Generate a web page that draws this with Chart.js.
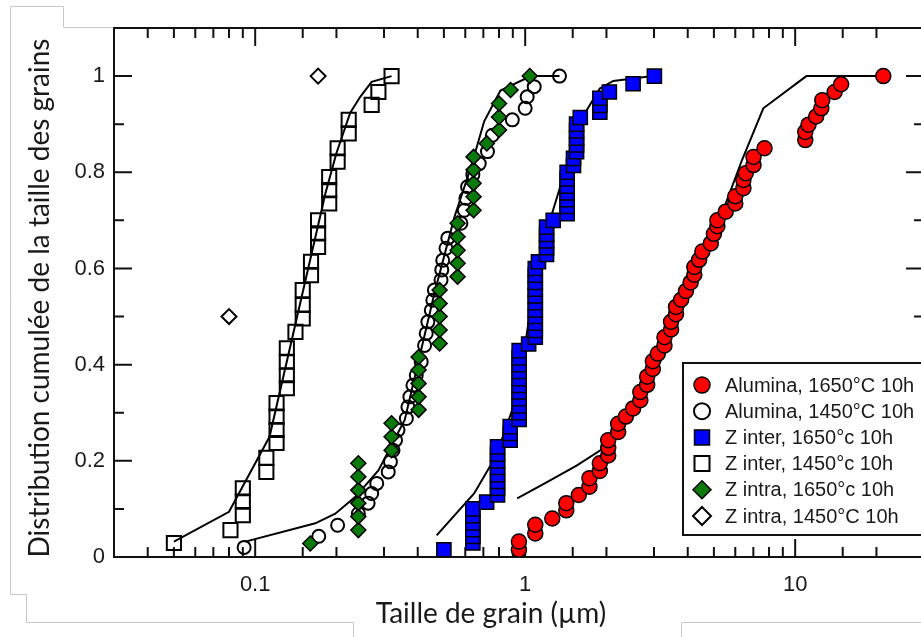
<!DOCTYPE html>
<html>
<head>
<meta charset="utf-8">
<script src="https://cdn.jsdelivr.net/npm/chart.js@4.4.0/dist/chart.umd.min.js"></script>
<style>
    html, body { margin: 0; padding: 0; background: #fff; overflow: hidden; }
    #wrap { width: 921px; height: 637px; overflow: hidden; }
    canvas { display: block; }
</style>
</head>
<body>
<div id="wrap"><canvas id="grainChart" width="936" height="637"></canvas></div>
<script>
// Grain size data, [size in µm, cumulative fraction]
const alumina1650 = [[0.948,0.015],[0.948,0.032],[1.09,0.049],[1.09,0.067],[1.26,0.080],[1.42,0.097],[1.42,0.112],
    [1.58,0.129],[1.73,0.146],[1.73,0.164],[1.89,0.179],[1.89,0.195],[2.03,0.211],[2.03,0.227],[2.03,0.243],
    [2.21,0.260],[2.21,0.277],[2.36,0.292],[2.51,0.309],[2.67,0.326],[2.67,0.343],[2.83,0.358],[2.83,0.375],
    [2.97,0.391],[2.97,0.407],[3.10,0.423],[3.28,0.440],[3.28,0.457],[3.47,0.473],[3.47,0.489],[3.62,0.505],
    [3.62,0.520],[3.78,0.535],[3.94,0.553],[4.10,0.571],[4.23,0.587],[4.23,0.603],[4.41,0.618],[4.53,0.635],
    [4.87,0.652],[5.00,0.672],[5.15,0.688],[5.15,0.700],[5.53,0.718],[6.00,0.735],[6.00,0.750],[6.43,0.767],
    [6.43,0.784],[6.56,0.798],[7.01,0.815],[7.01,0.832],[7.70,0.850],[10.9,0.867],[10.9,0.884],[11.2,0.899],
    [11.96,0.916],[12.5,0.933],[12.6,0.950],[14.0,0.967],[14.8,0.983],[21.2,1.000]];
const alumina1450 = [[0.091,0.020],[0.172,0.043],[0.202,0.066],[0.241,0.090],[0.262,0.112],[0.270,0.132],
    [0.282,0.153],[0.311,0.177],[0.317,0.198],[0.324,0.222],[0.331,0.243],[0.338,0.264],[0.363,0.288],
    [0.368,0.312],[0.374,0.333],[0.384,0.357],[0.395,0.378],[0.412,0.406],[0.424,0.440],[0.430,0.465],
    [0.436,0.489],[0.449,0.513],[0.455,0.534],[0.461,0.555],[0.488,0.576],[0.491,0.597],[0.495,0.617],
    [0.509,0.642],[0.517,0.663],[0.578,0.694],[0.595,0.721],[0.603,0.746],[0.612,0.770],[0.640,0.795],
    [0.676,0.818],[0.725,0.843],[0.756,0.877],[0.896,0.909],[1.000,0.933],[1.017,0.957],[1.080,0.978],[1.340,1.000]];
const zInter1650 = [[0.50,0.015],[0.64,0.029],[0.64,0.043],[0.64,0.057],[0.64,0.071],[0.64,0.086],[0.64,0.100],
    [0.72,0.114],[0.79,0.129],[0.79,0.143],[0.79,0.157],[0.79,0.171],[0.79,0.186],[0.79,0.200],[0.79,0.214],
    [0.79,0.229],[0.88,0.243],[0.88,0.257],[0.88,0.271],[0.95,0.286],[0.95,0.300],[0.95,0.314],[0.95,0.329],
    [0.95,0.343],[0.95,0.357],[0.95,0.371],[0.95,0.386],[0.95,0.400],[0.95,0.414],[0.95,0.429],[1.03,0.443],
    [1.09,0.457],[1.09,0.471],[1.09,0.486],[1.09,0.500],[1.09,0.514],[1.09,0.529],[1.09,0.543],[1.09,0.557],
    [1.09,0.571],[1.09,0.586],[1.09,0.600],[1.12,0.614],[1.20,0.629],[1.20,0.643],[1.20,0.657],[1.20,0.671],
    [1.20,0.686],[1.27,0.700],[1.43,0.714],[1.43,0.729],[1.43,0.743],[1.43,0.757],[1.43,0.771],[1.43,0.786],
    [1.43,0.800],[1.51,0.814],[1.51,0.829],[1.55,0.843],[1.55,0.857],[1.55,0.871],[1.55,0.886],[1.55,0.900],
    [1.60,0.914],[1.89,0.925],[1.89,0.939],[1.89,0.954],[2.05,0.967],[2.51,0.984],[3.01,1.000]];
const zInter1450 = [[0.050,0.029],[0.081,0.056],[0.090,0.087],[0.090,0.115],[0.090,0.143],[0.110,0.177],
    [0.110,0.206],[0.120,0.237],[0.120,0.264],[0.120,0.292],[0.120,0.320],[0.131,0.351],[0.131,0.378],
    [0.131,0.406],[0.131,0.434],[0.141,0.468],[0.150,0.496],[0.150,0.524],[0.150,0.555],[0.161,0.586],
    [0.161,0.614],[0.171,0.645],[0.171,0.673],[0.171,0.700],[0.188,0.735],[0.188,0.763],[0.188,0.790],
    [0.202,0.822],[0.202,0.850],[0.222,0.881],[0.222,0.909],[0.270,0.940],[0.286,0.967],[0.320,1.000]];
const zIntra1650 = [[0.160,0.028],[0.241,0.056],[0.241,0.084],[0.241,0.112],[0.241,0.139],[0.241,0.167],
    [0.241,0.195],[0.320,0.222],[0.320,0.250],[0.320,0.278],[0.403,0.306],[0.403,0.333],[0.403,0.361],
    [0.403,0.389],[0.403,0.416],[0.482,0.444],[0.482,0.472],[0.482,0.500],[0.482,0.527],[0.482,0.555],
    [0.562,0.583],[0.562,0.611],[0.562,0.638],[0.562,0.666],[0.562,0.694],[0.644,0.721],[0.644,0.749],
    [0.644,0.777],[0.644,0.805],[0.644,0.832],[0.721,0.860],[0.800,0.888],[0.800,0.915],[0.800,0.943],
    [0.883,0.971],[1.040,1.000]];
const zIntra1450 = [[0.080,0.500],[0.171,1.000]];

// Fitted curves
const fitZInter1450 = [[0.05,0.032],[0.08,0.094],[0.113,0.25],[0.182,0.756],[0.2,0.84],[0.225,0.924],
    [0.245,0.957],[0.27,0.988],[0.32,1.0]];
const fitMiddle = [[0.092,0.032],[0.167,0.07],[0.198,0.09],[0.235,0.125],[0.286,0.18],[0.358,0.285],
    [0.461,0.548],[0.547,0.707],[0.63,0.811],[0.705,0.906],[0.81,0.97],[1.05,1.0],[1.34,1.0]];
const fitZInter1650 = [[0.47,0.045],[0.647,0.132],[0.778,0.209],[0.896,0.306],[0.989,0.423],[1.076,0.562],
    [1.205,0.68],[1.348,0.77],[1.51,0.86],[1.69,0.929],[1.89,0.974],[2.12,0.99],[2.97,1.0]];
const fitAlumina1650 = [[0.934,0.122],[1.2,0.155],[1.55,0.19],[1.9,0.222],[2.3,0.268],[2.65,0.32],
    [3.33,0.43],[4.28,0.583],[5.53,0.735],[6.35,0.825],[7.62,0.933],[11.0,1.0],[21.2,1.0]];

const xLabelValues = [0.1, 1, 10];
const yLabelValues = [0, 0.2, 0.4, 0.6, 0.8, 1];

const toXY = arr => arr.map(p => ({ x: p[0], y: p[1] }));
const tickFont = { family: 'Liberation Sans', size: 22 };
const inkColor = '#1a1a1a';

function markerSet(label, data, style, radius, fill, order) {
    return {
        label: label,
        data: toXY(data),
        pointStyle: style,
        pointRadius: radius,
        pointHoverRadius: radius,
        pointBackgroundColor: fill,
        pointBorderColor: '#000',
        pointBorderWidth: fill === 'transparent' ? 2 : 1.5,
        showLine: false,
        order: order
    };
}

function fitSet(data) {
    return {
        data: toXY(data),
        showLine: true,
        borderColor: '#000',
        borderWidth: 2,
        pointRadius: 0,
        pointHoverRadius: 0,
        fill: false,
        order: 10
    };
}

// Inward tick marks and the closed frame
const axisTicks = {
    id: 'axisTicks',
    beforeDatasetsDraw(chart) {
        const { ctx, chartArea: a, scales: { x, y } } = chart;
        ctx.save();
        ctx.strokeStyle = '#111';
        ctx.lineWidth = 2;
        ctx.beginPath();
        ctx.moveTo(a.left - 1, a.top);
        ctx.lineTo(a.right, a.top);
        ctx.lineTo(a.right, a.bottom + 1);
        y.ticks.forEach(t => {
            const py = y.getPixelForValue(t.value);
            const major = Math.round(t.value * 10) % 2 === 0;
            const len = major ? 18 : 10;
            ctx.moveTo(a.left, py); ctx.lineTo(a.left + len, py);
            ctx.moveTo(a.right, py); ctx.lineTo(a.right - len, py);
        });
        x.ticks.forEach(t => {
            const px = x.getPixelForValue(t.value);
            const lg = Math.log10(t.value);
            const major = Math.abs(lg - Math.round(lg)) < 1e-6;
            const len = major ? 18 : 10;
            ctx.moveTo(px, a.bottom); ctx.lineTo(px, a.bottom - len);
            ctx.moveTo(px, a.top); ctx.lineTo(px, a.top + len);
        });
        ctx.stroke();
        ctx.restore();
    }
};

// Grey outline of the page around the figure
const pageFrame = {
    id: 'pageFrame',
    beforeDraw(chart) {
        const ctx = chart.ctx;
        ctx.save();
        ctx.strokeStyle = '#c8c8c8';
        ctx.lineWidth = 1;
        ctx.beginPath();
        ctx.moveTo(936, 27.5); ctx.lineTo(63.5, 27.5); ctx.lineTo(63.5, 6.5); ctx.lineTo(10.5, 6.5);
        ctx.lineTo(10.5, 594.5); ctx.lineTo(26.5, 594.5); ctx.lineTo(26.5, 622.5); ctx.lineTo(353.5, 622.5);
        ctx.lineTo(353.5, 637);
        ctx.moveTo(681.5, 637); ctx.lineTo(681.5, 622.5); ctx.lineTo(936, 622.5);
        ctx.stroke();
        ctx.restore();
    }
};

// Axis titles
const axisTitles = {
    id: 'axisTitles',
    afterDraw(chart) {
        const ctx = chart.ctx;
        ctx.save();
        ctx.fillStyle = inkColor;
        ctx.font = '28px Lato';
        ctx.textAlign = 'center';
        ctx.textBaseline = 'middle';
        ctx.fillText('Taille de grain (µm)', 491, 614);
        ctx.translate(40, 298);
        ctx.rotate(-Math.PI / 2);
        ctx.fillText('Distribution cumulée de la taille des grains', 0, 0);
        ctx.restore();
    }
};

// Legend box inside the plot
const legendBox = {
    id: 'legendBox',
    afterDraw(chart) {
        const ctx = chart.ctx;
        const left = 683, top = 363, rowH = 26.2;
        ctx.save();
        ctx.fillStyle = '#fff';
        ctx.fillRect(left, top, 260, 172);
        ctx.strokeStyle = '#111';
        ctx.lineWidth = 2;
        ctx.strokeRect(left, top, 260, 172);
        for (let i = 0; i < 6; i++) {
            const ds = chart.data.datasets[i];
            const cx = 702, cy = top + 22 + i * rowH;
            ctx.beginPath();
            if (ds.pointStyle === 'circle') {
                ctx.arc(cx, cy, 8, 0, Math.PI * 2);
            } else if (ds.pointStyle === 'rect') {
                const h = 7.5;
                ctx.rect(cx - h, cy - h, 2 * h, 2 * h);
            } else {
                const r = 9;
                ctx.moveTo(cx, cy - r); ctx.lineTo(cx + r, cy); ctx.lineTo(cx, cy + r); ctx.lineTo(cx - r, cy);
                ctx.closePath();
            }
            if (ds.pointBackgroundColor !== 'transparent') {
                ctx.fillStyle = ds.pointBackgroundColor;
                ctx.fill();
            }
            ctx.lineWidth = ds.pointBorderWidth;
            ctx.strokeStyle = '#000';
            ctx.stroke();
            ctx.fillStyle = inkColor;
            ctx.font = '20px "Liberation Sans"';
            ctx.textAlign = 'left';
            ctx.textBaseline = 'middle';
            ctx.fillText(ds.label, 725, cy + 1);
        }
        ctx.restore();
    }
};

const ctx = document.getElementById('grainChart').getContext('2d');
new Chart(ctx, {
    type: 'scatter',
    data: {
        datasets: [
            markerSet('Alumina, 1650°C 10h', alumina1650, 'circle', 7.5, '#ff0000', 1),
            markerSet('Alumina, 1450°C 10h', alumina1450, 'circle', 6.5, 'transparent', 4),
            markerSet('Z inter, 1650°c 10h', zInter1650, 'rect', 10, '#0000ff', 3),
            markerSet('Z inter, 1450°c 10h', zInter1450, 'rect', 10, 'transparent', 5),
            markerSet('Z intra, 1650°c 10h', zIntra1650, 'rectRot', 7.5, '#0a7a0a', 2),
            markerSet('Z intra, 1450°C 10h', zIntra1450, 'rectRot', 7.5, 'transparent', 6),
            fitSet(fitZInter1450),
            fitSet(fitMiddle),
            fitSet(fitZInter1650),
            fitSet(fitAlumina1650)
        ]
    },
    options: {
        responsive: false,
        animation: false,
        layout: { padding: { top: 28, right: 8, left: 0, bottom: 0 } },
        plugins: {
            legend: { display: false },
            tooltip: { enabled: false }
        },
        scales: {
            x: {
                type: 'logarithmic',
                min: 0.03,
                max: 30,
                grid: { display: false },
                border: { color: '#111', width: 2 },
                ticks: {
                    autoSkip: false,
                    maxRotation: 0,
                    padding: 7,
                    color: inkColor,
                    font: tickFont,
                    callback: function(value) {
                        const hit = xLabelValues.find(v => Math.abs(v - value) < v * 1e-6);
                        return hit === undefined ? '' : String(hit);
                    }
                },
                afterFit: function(scale) { scale.height = 80; }
            },
            y: {
                min: 0,
                max: 1.1,
                grid: { display: false, drawTicks: false },
                border: { color: '#111', width: 2 },
                ticks: {
                    stepSize: 0.1,
                    padding: 9,
                    crossAlign: 'near',
                    color: inkColor,
                    font: tickFont,
                    callback: function(value) {
                        const hit = yLabelValues.find(v => Math.abs(v - value) < 1e-6);
                        return hit === undefined ? '' : String(hit);
                    }
                },
                afterFit: function(scale) { scale.width = 114; }
            }
        }
    },
    plugins: [pageFrame, axisTicks, axisTitles, legendBox]
});
</script>
</body>
</html>
